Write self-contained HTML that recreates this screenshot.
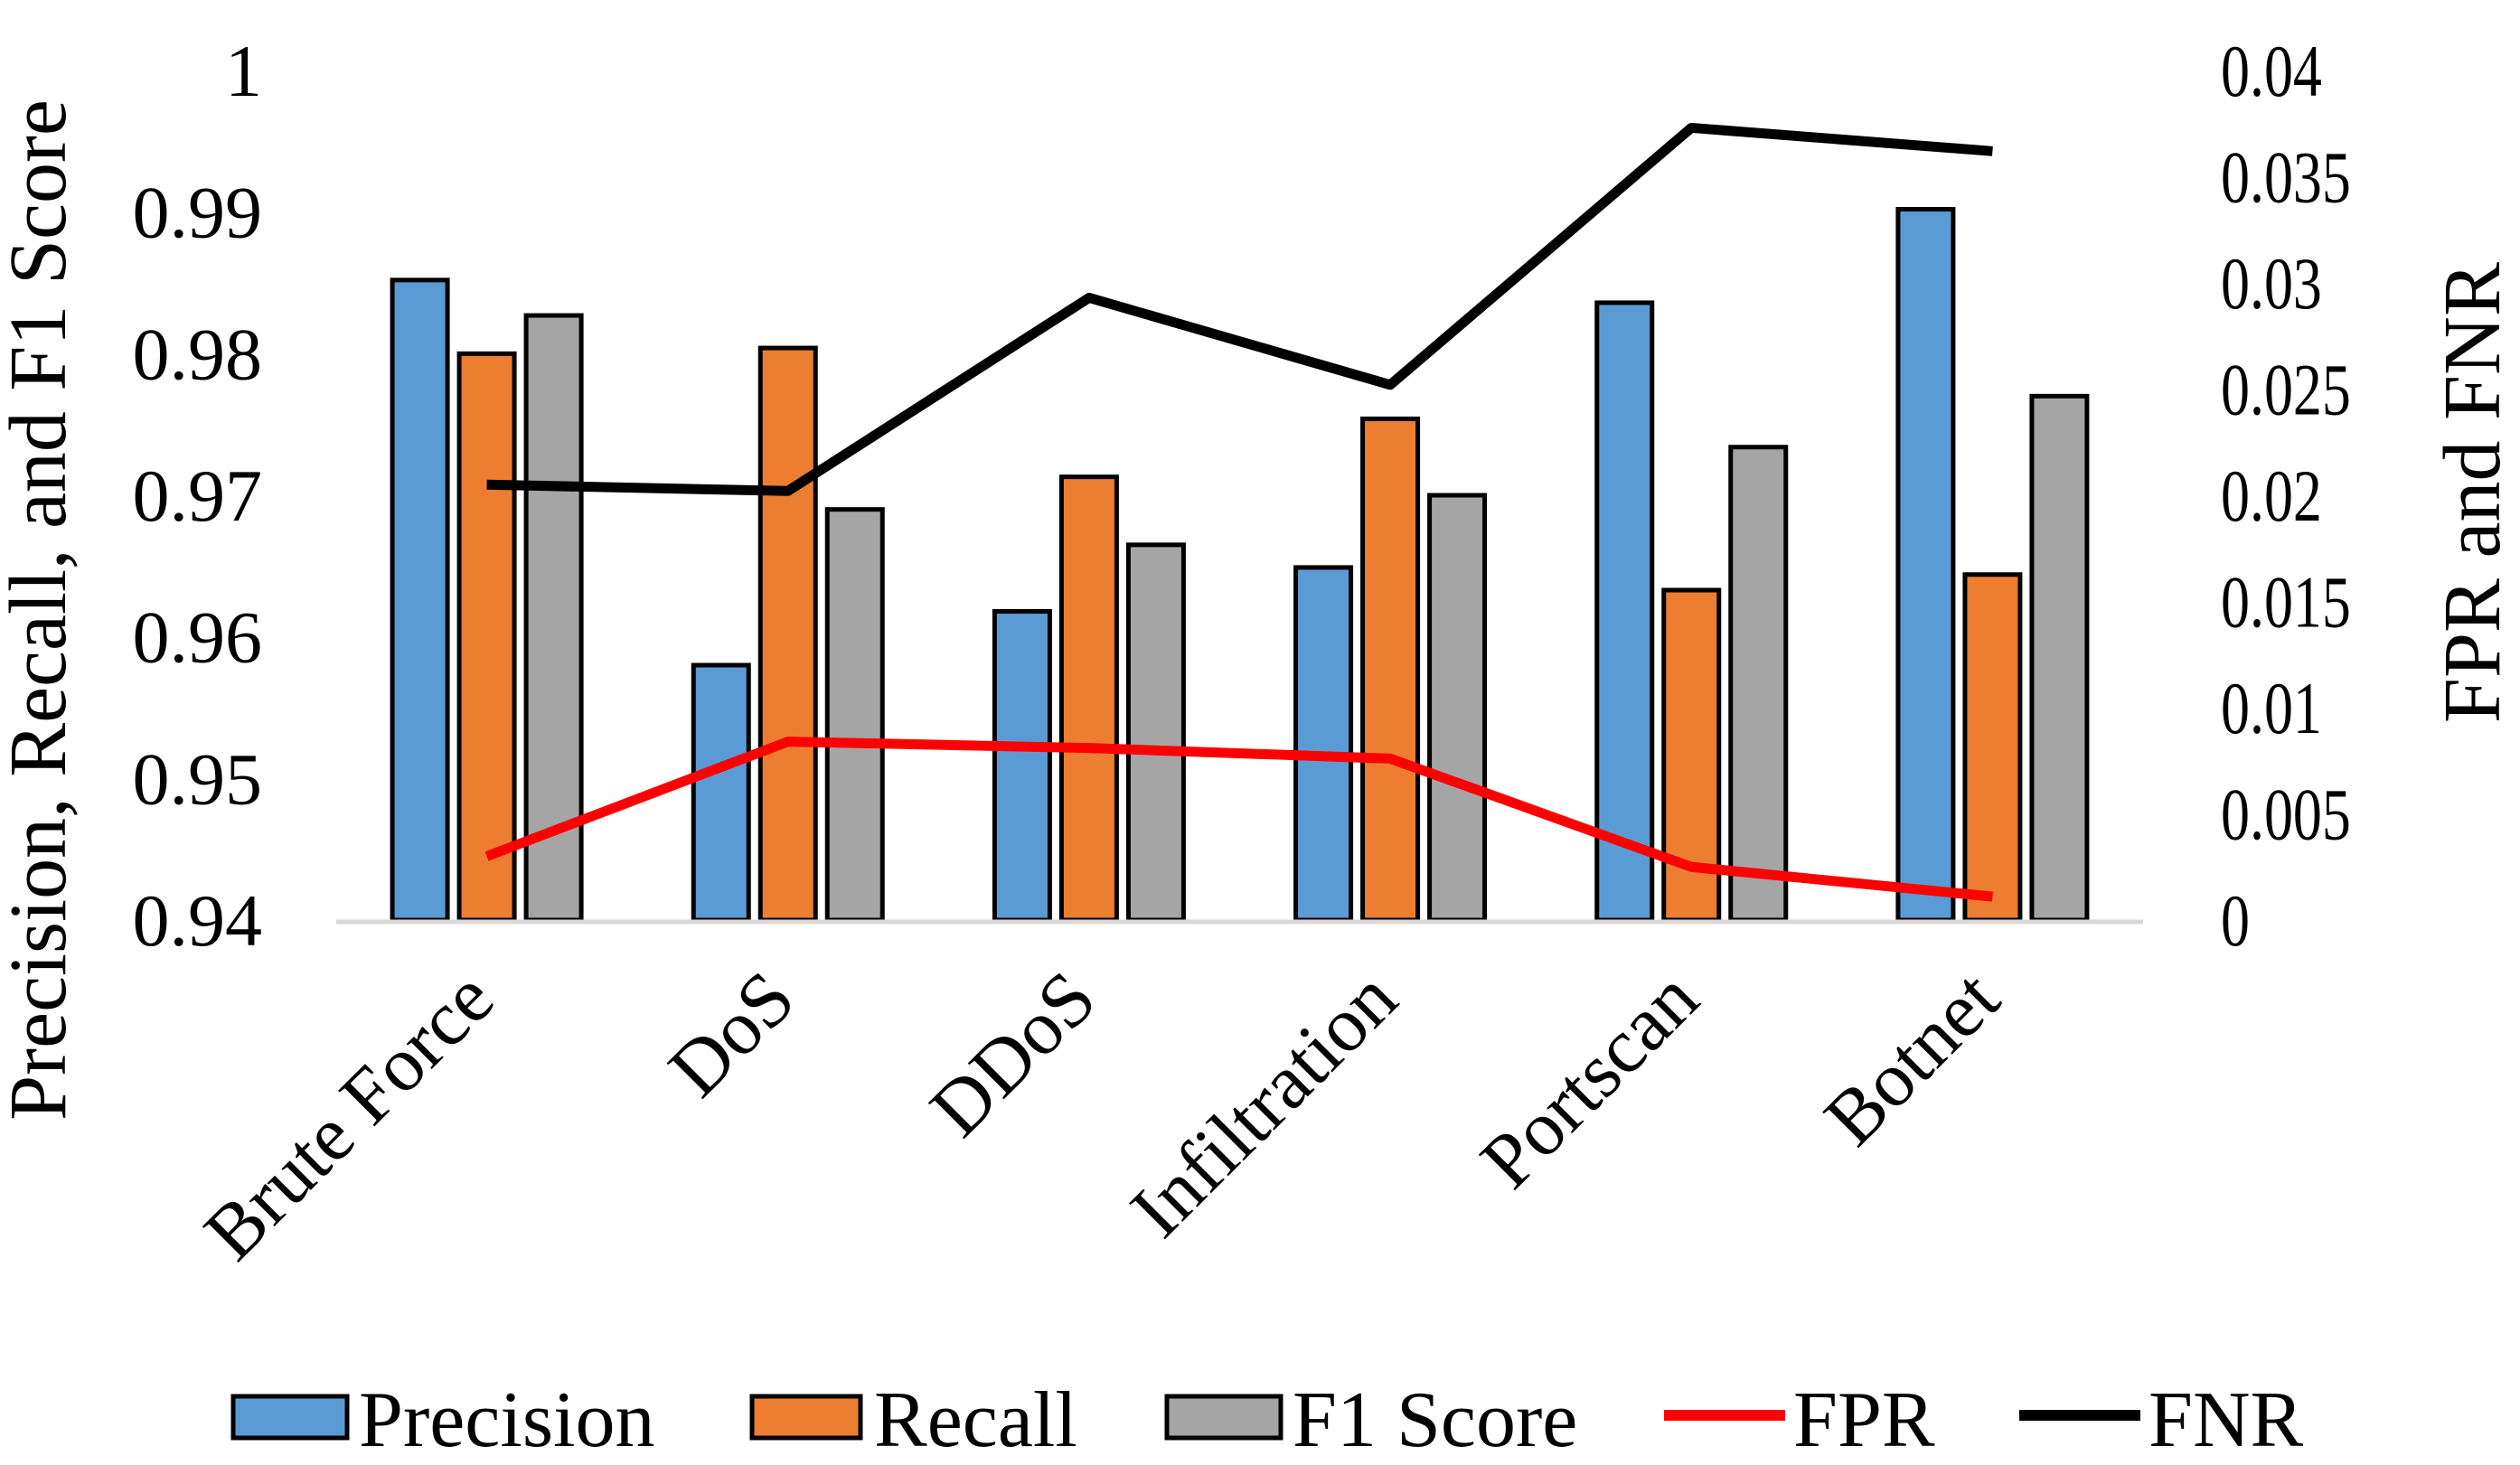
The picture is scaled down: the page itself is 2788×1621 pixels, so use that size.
<!DOCTYPE html>
<html><head><meta charset="utf-8"><style>
html,body{margin:0;padding:0;background:#fff;}
svg{display:block;font-family:"Liberation Serif",serif;}
</style></head><body>
<svg id="chart" width="2788" height="1621" viewBox="0 0 2788 1621" xmlns="http://www.w3.org/2000/svg">
<g id="bars"></g>
<g id="lines"></g>
<g id="axes"></g>
<text transform="translate(72,675) rotate(-90)" text-anchor="middle" font-size="90">Precision, Recall, and F1 Score</text>
<text transform="translate(2765,545) rotate(-90)" text-anchor="middle" font-size="90">FPR and FNR</text>
<g font-size="88">
 <g><rect x="258" y="1545" width="126" height="46" fill="#5B9BD5" stroke="#000" stroke-width="5"/><text x="397" y="1600">Precision</text></g>
 <g><rect x="832" y="1545" width="120" height="46" fill="#ED7D31" stroke="#000" stroke-width="5"/><text x="967" y="1600">Recall</text></g>
 <g><rect x="1291" y="1545" width="126" height="46" fill="#A5A5A5" stroke="#000" stroke-width="5"/><text x="1430" y="1600">F1 Score</text></g>
 <g><line x1="1841" y1="1566" x2="1975" y2="1566" stroke="#FF0000" stroke-width="12"/><text x="1984" y="1600">FPR</text></g>
 <g><line x1="2234" y1="1566" x2="2368" y2="1566" stroke="#000" stroke-width="12"/><text x="2377" y="1600">FNR</text></g>
</g>
</svg>
<script>
const categories = ["Brute Force","DoS","DDoS","Infiltration","Portscan","Botnet"];
const precision = [0.9852,0.958,0.9618,0.9649,0.9836,0.9902];
const recall = [0.980,0.9804,0.9713,0.9754,0.9633,0.9644];
const f1 = [0.9827,0.969,0.9665,0.970,0.9734,0.977];
const fpr = [0.003,0.0084,0.0081,0.0076,0.0025,0.0011];
const fnr = [0.0205,0.0202,0.0293,0.0252,0.0373,0.0362];
const leftTicks = ["0.94","0.95","0.96","0.97","0.98","0.99","1"];
const rightTicks = ["0","0.005","0.01","0.015","0.02","0.025","0.03","0.035","0.04"];

const NS="http://www.w3.org/2000/svg";
const X0=372,X1=2371,Y0=1018,Y1=78;
const yL=v=>Y0-(v-0.94)/(0.06)*(Y0-Y1);
const yR=v=>Y0-v/0.04*(Y0-Y1);
const step=(X1-X0)/categories.length;
const xC=i=>X0+step*(i+0.5);
function mk(tag,attrs,parent){const e=document.createElementNS(NS,tag);for(const k in attrs)e.setAttribute(k,attrs[k]);parent.appendChild(e);return e;}
const bars=document.getElementById('bars'),lines=document.getElementById('lines'),axes=document.getElementById('axes');
const series=[[precision,"#5B9BD5","precision"],[recall,"#ED7D31","recall"],[f1,"#A5A5A5","f1"]];
const bw=61,bs=74;
series.forEach((s,si)=>{
  s[0].forEach((v,i)=>{
    const x=xC(i)+(si-1)*bs-bw/2;
    const r=mk('rect',{x:x,y:yL(v),width:bw,height:Y0-yL(v),fill:s[1],stroke:"#000","stroke-width":5},bars);
    
    
  });
});
const base=mk('line',{x1:X0,y1:Y0+2,x2:X1,y2:Y0+2,stroke:"#d9d9d9","stroke-width":5},axes);


[[fpr,"#FF0000","fpr-line"],[fnr,"#000","fnr-line"]].forEach(s=>{
  const p=mk('polyline',{points:s[0].map((v,i)=>xC(i)+","+yR(v)).join(" "),fill:"none",stroke:s[1],"stroke-width":11,"stroke-linejoin":"round"},lines);
  
  
});
leftTicks.forEach((t,i)=>{
  const e=mk('text',{x:290,y:yL(parseFloat(t))+28,"text-anchor":"end","font-size":82},axes);
  e.textContent=t;
  
  
});
rightTicks.forEach((t,i)=>{
  const y=yR(parseFloat(t))+28;
  const e=mk('text',{x:0,y:0,"text-anchor":"start","font-size":82,transform:`translate(2457 ${y}) scale(0.78 1)`},axes);
  e.textContent=t;
  
  
});
categories.forEach((c,i)=>{
  const x=xC(i)+12,y=1110;
  const e=mk('text',{x:x,y:y,"text-anchor":"end","font-size":86,transform:`rotate(-45 ${x} ${y})`},axes);
  e.textContent=c;
  
  
});
</script>
</body></html>
